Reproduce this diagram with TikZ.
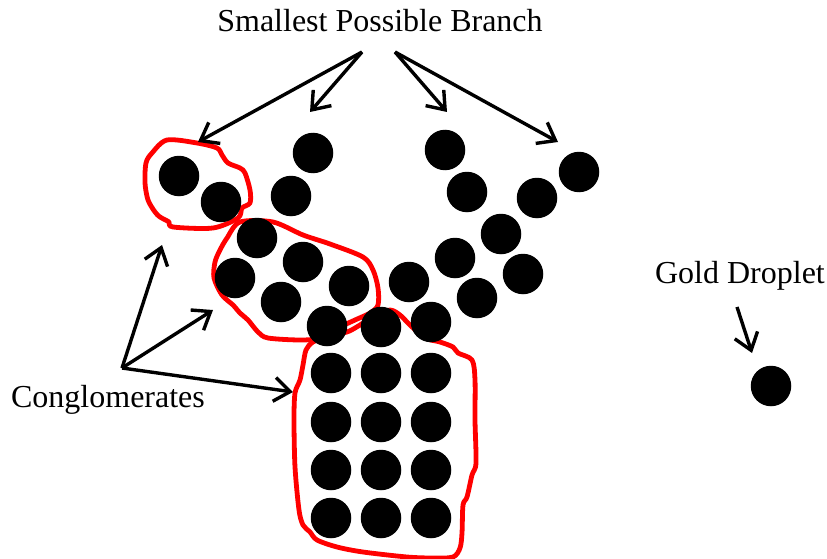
\documentclass[tikz,border=0pt]{standalone}
\usepackage{fontspec}
\setmainfont{Liberation Serif}
\usetikzlibrary{arrows.meta}
\begin{document}
\begin{tikzpicture}[x=1pt,y=-1pt,
  dot/.style={circle,fill=black,inner sep=0pt,minimum size=40.5pt},
  lbl/.style={font=\fontsize{32}{37}\selectfont,inner sep=0pt,anchor=base},
  arr/.style={line width=3.4pt,-{Straight Barb[length=16pt,width=24pt]}},
  outline/.style={draw=red,line width=4.8pt,line join=round}]
\useasboundingbox (0,0) rectangle (827,559);

% red outlines (drawn first, dots on top)
\draw[outline] plot[smooth cycle,tension=0.5] coordinates {
 (167,140) (197,143) (217,148) (222,155) (228,163) (240,168) (245,173)
 (250,190) (250,203) (242,208) (238,218) (213,228) (173,227) (169,222)
 (160,217) (155,212) (148,200) (145,183) (146,163) (152,153)};
\draw[outline] plot[smooth cycle,tension=0.5] coordinates {
 (240,222) (273,222) (303,235) (330,244) (363,257) (373,270) (378,288)
 (378,305) (370,313) (355,320) (340,327) (320,338) (300,340) (268,338)
 (258,332) (248,320) (240,313) (233,305) (222,295) (214,278) (215,262)
 (220,250) (227,238)};
\draw[outline] plot[smooth cycle,tension=0.5] coordinates {
 (313,342) (330,335) (347,332) (360,325) (375,315) (390,310) (400,315)
 (410,325) (425,338) (440,342) (453,347) (458,353) (472,360) (475,380)
 (475,420) (476,463) (472,475) (467,497) (463,505) (462,533) (460,548)
 (453,557) (433,558) (407,557) (363,552) (337,547) (317,540) (310,532)
 (303,525) (299,510) (295,467) (294,420) (295,393) (300,380) (303,365)
 (306,350)};

% dots
\node[dot] (a1) at (179,176) {};
\node[dot] (a2) at (221,202) {};
\node[dot] (b1) at (313,153) {};
\node[dot] (b2) at (291,196) {};
\node[dot] (m1) at (257,238) {};
\node[dot] (m2) at (235,278) {};
\node[dot] (m3) at (303,262) {};
\node[dot] (m4) at (281,302) {};
\node[dot] (m5) at (349,286) {};
\node[dot] (m6) at (327,326) {};
\node[dot] (m7) at (381,327) {};
\node[dot] (r1) at (445,150) {};
\node[dot] (r2) at (467,192) {};
\node[dot] (r3) at (579,172) {};
\node[dot] (r4) at (537,198) {};
\node[dot] (r5) at (501,234) {};
\node[dot] (r6) at (455,258) {};
\node[dot] (r7) at (523,274) {};
\node[dot] (r8) at (409,282) {};
\node[dot] (r9) at (477,298) {};
\node[dot] (r10) at (431,322) {};
\foreach \c/\x in {1/331,2/381,3/431}{
  \foreach \r/\y in {1/373,2/422,3/470,4/518}{
    \node[dot] (g\c\r) at (\x,\y) {};
  }
}
\node[dot] (gold) at (771,386) {};

% labels
\node[lbl] (spb) at (380,32) {Smallest Possible Branch};
\node[lbl] (cong) at (108,407) {Conglomerates};
\node[lbl] (gd) at (740,283) {Gold Droplet};

% arrow origins and tips
\coordinate (sL) at (362,52);
\coordinate (sR) at (395,52);
\coordinate (t1) at (198,142);
\coordinate (t2) at (310,112);
\coordinate (t3) at (447,112);
\coordinate (t4) at (558,142);
\coordinate (cO) at (122,368);
\coordinate (c1) at (162,245);
\coordinate (c2) at (213,310);
\coordinate (c3) at (293,392);
\coordinate (gO) at (737,307);
\coordinate (gT) at (752,353);

\draw[arr] (sL) -- (t1);
\draw[arr] (sL) -- (t2);
\draw[arr] (sR) -- (t3);
\draw[arr] (sR) -- (t4);
\draw[arr] (cO) -- (c1);
\draw[arr] (cO) -- (c2);
\draw[arr] (cO) -- (c3);
\draw[arr] (gO) -- (gT);
\end{tikzpicture}
\end{document}
